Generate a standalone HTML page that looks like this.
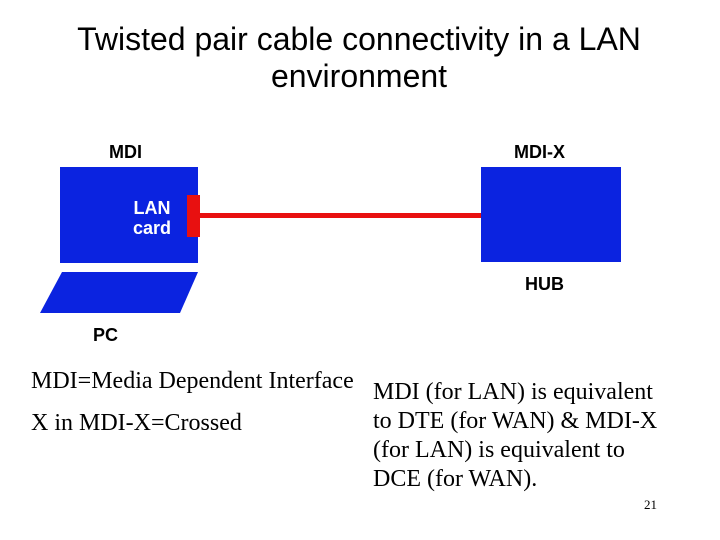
<!DOCTYPE html>
<html><head><style>
body{margin:0;width:720px;height:540px;background:#fff;overflow:hidden;position:relative}
.a{position:absolute;font-family:"Liberation Sans",sans-serif;white-space:nowrap}
.s{position:absolute;font-family:"Liberation Serif",serif;font-size:24px;white-space:nowrap;color:#000}
.b{font-weight:bold;font-size:18px}
</style></head><body>
<div class="a" style="left:0;width:718px;text-align:center;top:21px;font-size:32px;line-height:37px">Twisted pair cable connectivity in a LAN<br>environment</div>
<svg width="720" height="540" style="position:absolute;left:0;top:0">
<rect x="60" y="167" width="138" height="96" fill="#0b23e0"/>
<rect x="481" y="167" width="140" height="95" fill="#0b23e0"/>
<polygon points="62,272 198,272 180,313 40,313" fill="#0b23e0"/>
<rect x="198" y="213" width="283" height="5" fill="#e81010"/>
<rect x="187" y="195" width="13" height="42" fill="#e81010"/>
</svg>
<div class="a b" style="left:109px;top:142px">MDI</div>
<div class="a b" style="left:514px;top:142px">MDI-X</div>
<div class="a b" style="left:525px;top:274px">HUB</div>
<div class="a b" style="left:93px;top:325px">PC</div>
<div class="a" style="left:133px;top:198px;color:#fff;font-size:18px;line-height:20px;text-align:center;font-weight:bold">LAN<br>card</div>
<div class="s" style="left:31px;top:368px">MDI=Media Dependent Interface</div>
<div class="s" style="left:31px;top:410px">X in MDI-X=Crossed</div>
<div class="s" style="left:373px;top:378px;line-height:29px">MDI (for LAN) is equivalent<br>to DTE (for WAN) &amp; MDI-X<br>(for LAN) is equivalent to<br>DCE (for WAN).</div>
<div class="s" style="left:644px;top:497px;font-size:13px">21</div>
</body></html>
